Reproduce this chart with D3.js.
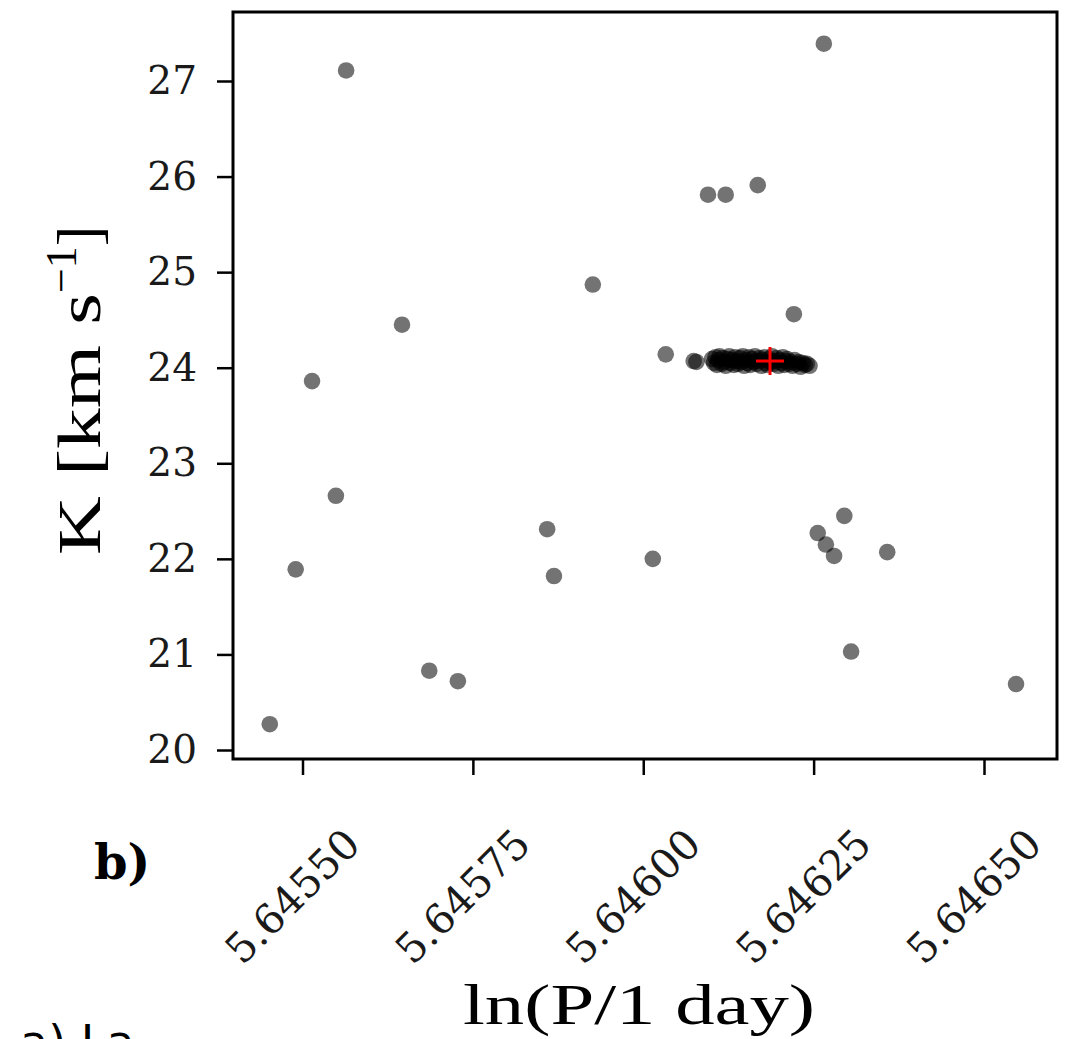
<!DOCTYPE html>
<html><head><meta charset="utf-8">
<script src="https://cdn.jsdelivr.net/npm/d3@7"></script>
<style>body{margin:0;background:#fff}</style>
</head><body>
<svg id="c" width="1084" height="1039"></svg>
<script>
const xTicks = [5.6455, 5.64575, 5.646, 5.64625, 5.6465];
const xTickLabels = ["5.64550", "5.64575", "5.64600", "5.64625", "5.64650"];
const yTicks = [20, 21, 22, 23, 24, 25, 26, 27];
const scatterX = [5.645452,5.645490,5.645514,5.645549,5.645564,5.645646,5.645686,5.645728,5.645859,5.645869,5.645926,5.646014,5.646033,5.646095,5.646121,5.646168,5.646221,5.646265,5.646256,5.646268,5.646280,5.646295,5.646305,5.646358,5.646547];
const scatterY = [20.27,21.89,23.86,22.66,27.11,24.45,20.83,20.72,22.31,21.82,24.87,22.00,24.14,25.81,25.81,25.91,24.56,27.39,22.27,22.15,22.03,22.45,21.03,22.07,20.69];
const clusterX = [5.646074,5.646078,5.646101,5.646104,5.646106,5.646108,5.646110,5.646112,5.646115,5.646117,5.646119,5.646121,5.646124,5.646126,5.646128,5.646130,5.646133,5.646135,5.646137,5.646139,5.646142,5.646144,5.646146,5.646148,5.646151,5.646153,5.646155,5.646157,5.646160,5.646162,5.646164,5.646166,5.646169,5.646171,5.646173,5.646175,5.646178,5.646180,5.646182,5.646184,5.646187,5.646189,5.646191,5.646193,5.646196,5.646198,5.646200,5.646202,5.646205,5.646207,5.646209,5.646211,5.646214,5.646216,5.646219,5.646222,5.646225,5.646228,5.646231,5.646234,5.646237,5.646240,5.646244];
const clusterY = [24.07,24.06,24.09,24.05,24.11,24.03,24.08,24.12,24.04,24.10,24.06,24.02,24.09,24.12,24.05,24.08,24.03,24.11,24.07,24.04,24.10,24.06,24.12,24.02,24.08,24.05,24.11,24.03,24.09,24.06,24.12,24.04,24.07,24.10,24.02,24.08,24.11,24.05,24.03,24.09,24.06,24.12,24.04,24.07,24.10,24.02,24.08,24.05,24.11,24.03,24.07,24.09,24.04,24.06,24.02,24.08,24.04,24.06,24.01,24.05,24.03,24.04,24.02];
const bestX = [5.646186];
const bestY = [24.07];

const svg = d3.select("#c");
const L = 233, R = 1057, T = 12, B = 759;
const x = d3.scaleLinear().domain([5.6455, 5.6465]).range([302.5, 984]);
const y = d3.scaleLinear().domain([20, 27]).range([750, 81]);

const pts = scatterX.map((v,i)=>[v, scatterY[i]]).concat(clusterX.map((v,i)=>[v, clusterY[i]]));
svg.append("g").selectAll("circle").data(pts).join("circle")
  .attr("cx", d=>x(d[0])).attr("cy", d=>y(d[1])).attr("r", 8.3)
  .attr("fill", "#000").attr("fill-opacity", 0.55);

// red plus
const pg = svg.append("g");
bestX.forEach((bx,i)=>{
  const cx = x(bx), cy = y(bestY[i]);
  pg.append("line").attr("x1", cx-14).attr("x2", cx+14).attr("y1", cy).attr("y2", cy).attr("stroke","#ff0000").attr("stroke-width",3);
  pg.append("line").attr("x1", cx).attr("x2", cx).attr("y1", cy-14).attr("y2", cy+14).attr("stroke","#ff0000").attr("stroke-width",3);
});

// frame
svg.append("rect").attr("x", L).attr("y", T).attr("width", R-L).attr("height", B-T)
  .attr("fill","none").attr("stroke","#000").attr("stroke-width",3);

// x axis
const xa = svg.append("g").attr("transform", `translate(0,${B})`)
  .call(d3.axisBottom(x).tickValues(xTicks).tickSize(16).tickFormat((d,i)=>xTickLabels[i]));
xa.select(".domain").remove();
xa.selectAll(".tick line").attr("stroke-width",2.5);
xa.selectAll(".tick text").attr("font-family","DejaVu Serif").attr("font-size",41)
  .attr("fill","#1a1a1a").attr("text-anchor","middle").attr("dy",0).attr("y",0)
  .attr("transform","translate(-8,140) rotate(-45)").attr("dominant-baseline","middle");

// y axis
const ya = svg.append("g").attr("transform", `translate(${L},0)`)
  .call(d3.axisLeft(y).tickValues(yTicks).tickSize(16).tickPadding(20).tickFormat(d3.format("d")));
ya.select(".domain").remove();
ya.selectAll(".tick line").attr("stroke-width",2.5);
ya.selectAll(".tick text").attr("font-family","DejaVu Serif").attr("font-size",39).attr("fill","#1a1a1a");

// axis labels
svg.append("text").attr("x", 463).attr("y", 1024)
  .attr("font-family","Liberation Serif").attr("font-size",57)
  .attr("textLength",352).attr("lengthAdjust","spacingAndGlyphs").text("ln(P/1 day)");
const yl = svg.append("text").attr("transform","translate(100,555) rotate(-90)")
  .attr("font-family","Liberation Serif").attr("font-size",62);
yl.append("tspan").attr("textLength",262).attr("lengthAdjust","spacingAndGlyphs").text("K [km s");
yl.append("tspan").attr("dy",-24).attr("font-size",44).text("\u22121");
yl.append("tspan").attr("dy",24).text("]");

svg.append("text").attr("x", 94).attr("y", 879).attr("font-family","DejaVu Serif").attr("font-weight","bold")
  .attr("font-size",48).text("b)");
svg.append("text").attr("x", 20).attr("y", 1058).attr("font-family","DejaVu Sans")
  .attr("font-size",46).text("a) La");
</script>
</body></html>
